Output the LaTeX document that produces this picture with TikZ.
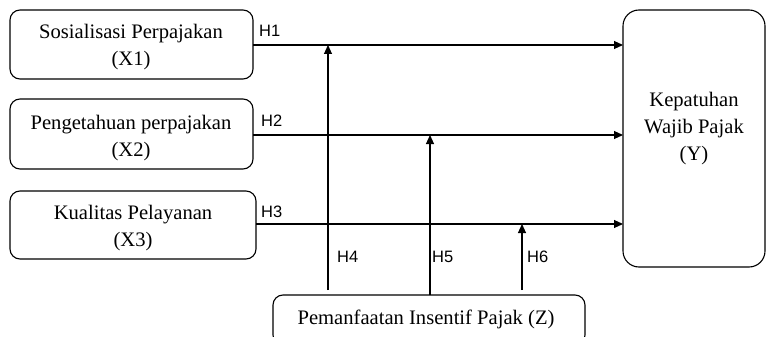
\documentclass[tikz,border=0pt]{standalone}
\usepackage{fontspec}
\setmainfont{Liberation Serif}
\newfontfamily\hfont{Liberation Sans}
\usetikzlibrary{arrows.meta}
\begin{document}
\begin{tikzpicture}[x=1pt,y=-1pt,
  box/.style={draw, line width=1.1pt, rounded corners=10pt},
  txt/.style={align=center, font=\fontsize{20.6}{27}\selectfont, inner sep=0pt},
  hl/.style={anchor=west, font=\hfont\fontsize{16.5}{18}\selectfont, inner sep=0pt},
  con/.style={line width=1.1pt},
  arr/.style={con, -{Triangle[length=9pt,width=8pt]}}]
\useasboundingbox (0,0) rectangle (766,337);
% boxes
\draw[box] (10,10) rectangle (253,79);
\draw[box] (10,99) rectangle (253,169);
\draw[box] (10,191) rectangle (256,259);
\draw[box, rounded corners=16pt] (623,10) rectangle (765,267);
\draw[box] (273,295) rectangle (585,345);
\node[txt] (x1) at (131,47) {Sosialisasi Perpajakan\\(X1)};
\node[txt] (x2) at (131,138) {Pengetahuan perpajakan\\(X2)};
\node[txt] (x3) at (133,228) {Kualitas Pelayanan\\(X3)};
\node[txt] (y) at (694,129) {Kepatuhan\\Wajib Pajak\\(Y)};
\node[txt] (z) at (426,319) {Pemanfaatan Insentif Pajak (Z)};
% coordinates
\coordinate (a1) at (253,45);
\coordinate (b1) at (623,45);
\coordinate (a2) at (253,135);
\coordinate (b2) at (623,135);
\coordinate (a3) at (256,224);
\coordinate (b3) at (623,224);
\coordinate (v4s) at (328,290);
\coordinate (v4e) at (328,45);
\coordinate (v5s) at (430,295);
\coordinate (v5e) at (430,135);
\coordinate (v6s) at (522,290);
\coordinate (v6e) at (522,224);
\draw[arr] (a1) -- (b1);
\draw[arr] (a2) -- (b2);
\draw[arr] (a3) -- (b3);
\draw[arr] (v4s) -- (v4e);
\draw[arr] (v5s) -- (v5e);
\draw[arr] (v6s) -- (v6e);
% labels
\node[hl] (h1) at (259,31) {H1};
\node[hl] (h2) at (261,121) {H2};
\node[hl] (h3) at (261,212) {H3};
\node[hl] (h4) at (337,257) {H4};
\node[hl] (h5) at (432,257) {H5};
\node[hl] (h6) at (527,257) {H6};
\end{tikzpicture}
\end{document}
